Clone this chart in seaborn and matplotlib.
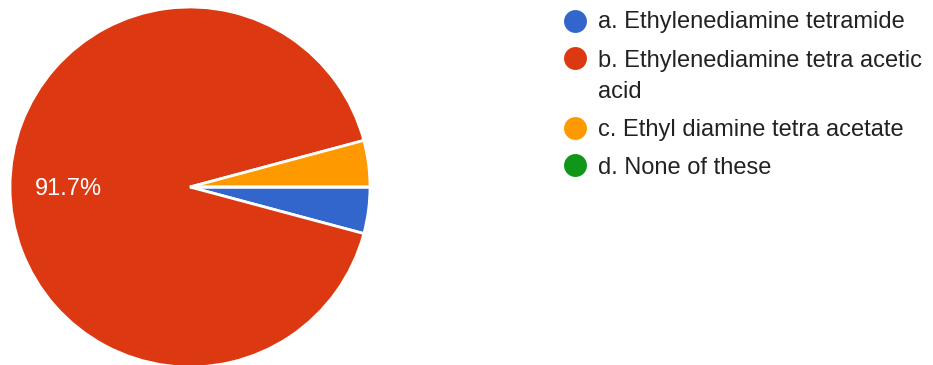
import matplotlib
matplotlib.use("Agg")
import matplotlib.pyplot as plt
import seaborn as sns

# Answer options and response shares
options = [
    "a. Ethylenediamine tetramide",
    "b. Ethylenediamine tetra acetic\nacid",
    "c. Ethyl diamine tetra acetate",
    "d. None of these",
]
responses = [1, 22, 1, 0]
option_colors = ["#3366CC", "#DC3912", "#FF9900", "#109618"]

sns.set_style("white")
plt.rcParams["font.family"] = ["Liberation Sans", "DejaVu Sans"]
palette = sns.color_palette(option_colors)

W, H = 933, 365
fig = plt.figure(figsize=(W / 100, H / 100), dpi=100)

# Pie area: centre (190, 187) px from top-left, radius 180 px
cx, cy, r = 190, 187, 180
ax = fig.add_axes([(cx - r) / W, (H - cy - r) / H, 2 * r / W, 2 * r / H])
ax.pie(
    responses,
    colors=palette,
    startangle=0,
    counterclock=False,
    radius=1,
    autopct=lambda p: f"{p:.1f}%" if p > 10 else "",
    pctdistance=0.675,
    wedgeprops=dict(edgecolor="white", linewidth=2),
    textprops=dict(color="white", fontsize=17, va="center_baseline"),
)
ax.set_xlim(-1, 1)
ax.set_ylim(-1, 1)
ax.axis("off")

# Legend drawn as markers and text on a full-figure overlay in pixel units
lg = fig.add_axes([0, 0, 1, 1])
lg.set_xlim(0, W)
lg.set_ylim(H, 0)
lg.axis("off")
marker_y = [21, 58, 128, 165]
baseline_y = [28, 66, 136, 174]
line_gap = 32
for label, col, my, by in zip(options, palette, marker_y, baseline_y):
    lg.plot([575], [my], marker="o", markersize=16.5, color=col,
            markeredgewidth=0, linestyle="none")
    # baseline alignment refers to the last line of a wrapped label
    last_baseline = by + line_gap * label.count("\n")
    lg.text(598, last_baseline, label, fontsize=17, color="#222222",
            ha="left", va="baseline", linespacing=1.54)

fig.savefig("out.png", dpi=100, facecolor="white")
